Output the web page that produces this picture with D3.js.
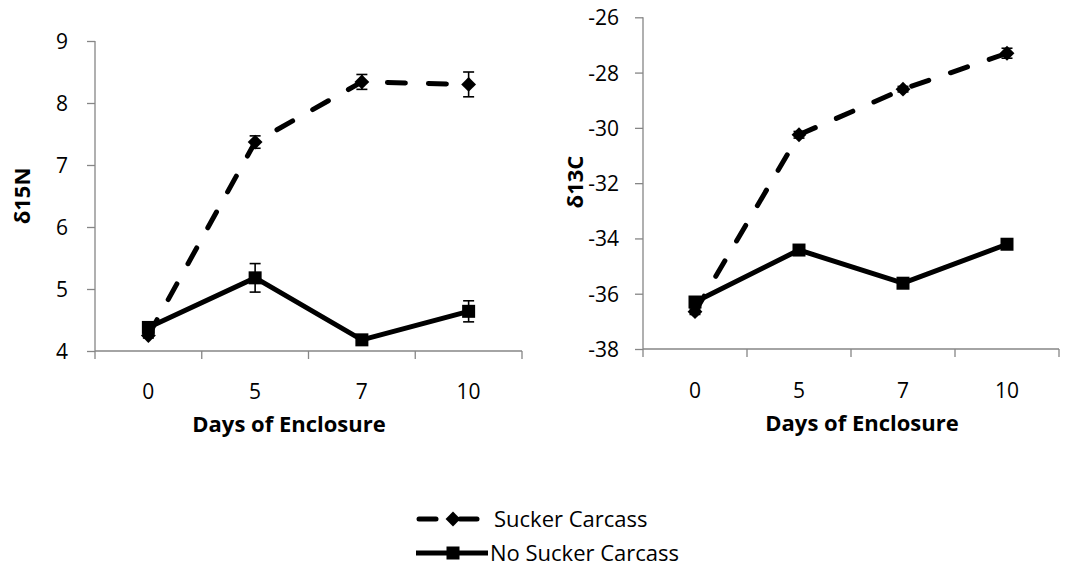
<!DOCTYPE html>
<html><head><meta charset="utf-8">
<script src="https://cdn.jsdelivr.net/npm/d3@7"></script>
<style>
html,body{margin:0;padding:0;background:#fff;}
svg{display:block;}
text{font-family:"Open Sans","Noto Sans",sans-serif;fill:#000;}
</style></head>
<body>
<svg id="chart" width="1068" height="571"></svg>
<script>
const days = ["0", "5", "7", "10"];
const n15Sucker = [4.25, 7.37, 8.34, 8.30];
const n15SuckerErr = [0.04, 0.10, 0.12, 0.20];
const n15NoSucker = [4.38, 5.18, 4.18, 4.64];
const n15NoSuckerErr = [0.04, 0.23, 0.04, 0.17];
const c13Sucker = [-36.65, -30.25, -28.6, -27.3];
const c13SuckerErr = [0.10, 0.12, 0.10, 0.18];
const c13NoSucker = [-36.3, -34.42, -35.62, -34.21];
const c13NoSuckerErr = [0.08, 0.10, 0.08, 0.08];
const n15Ticks = [4, 5, 6, 7, 8, 9];
const c13Ticks = [-38, -36, -34, -32, -30, -28, -26];
const seriesNames = ["Sucker Carcass", "No Sucker Carcass"];

const svg = d3.select("#chart");
const axisColor = "#868686";

function panel(opt) {
  const g = svg.append("g");
  const x = d3.scaleBand().domain(days).range([opt.x0, opt.x1]).padding(0);
  const y = d3.scaleLinear().domain(opt.domain).range([opt.yb, opt.yt]);

  // y axis
  const ya = g.append("g").attr("transform", `translate(${opt.x0},0)`)
    .call(d3.axisLeft(y).tickValues(opt.ticks).tickSize(8).tickPadding(opt.tp).tickFormat(d => String(d)));
  ya.select(".domain").remove();
  ya.selectAll(".tick line").attr("stroke", axisColor).attr("stroke-width", 1.3);
  ya.selectAll(".tick text").attr("font-size", 21).attr("font-family", null).attr("dy", "0.36em");
  g.append("line").attr("x1", opt.x0).attr("x2", opt.x0).attr("y1", opt.yt).attr("y2", opt.yb)
    .attr("stroke", axisColor).attr("stroke-width", 1.3);

  // x axis
  g.append("line").attr("x1", opt.x0).attr("x2", opt.x1).attr("y1", opt.yb).attr("y2", opt.yb)
    .attr("stroke", axisColor).attr("stroke-width", 1.3);
  const edges = days.map(d => x(d)).concat([x(days[days.length - 1]) + x.bandwidth()]);
  g.selectAll(".xt").data(edges).join("line")
    .attr("x1", d => d).attr("x2", d => d).attr("y1", opt.yb).attr("y2", opt.yb + 8)
    .attr("stroke", axisColor).attr("stroke-width", 1.3);
  g.selectAll(".xl").data(days).join("text")
    .attr("x", d => x(d) + x.bandwidth() / 2).attr("y", opt.xly)
    .attr("text-anchor", "middle").attr("font-size", 21).text(d => d);

  // titles
  g.append("text").attr("x", opt.xtx).attr("y", opt.xty).attr("text-anchor", "middle")
    .attr("font-size", 22).attr("font-weight", "bold").text("Days of Enclosure");
  g.append("text").attr("transform", `translate(${opt.ytx},${opt.yty}) rotate(-90)`)
    .attr("text-anchor", "middle").attr("dy", "0.35em").attr("font-size", 22).attr("font-weight", "bold").text(opt.ytitle);

  const cx = d => x(d) + x.bandwidth() / 2;
  const line = d3.line().x(d => cx(d.k)).y(d => y(d.v));
  const s1 = days.map((k, i) => ({k, v: opt.s1[i], e: opt.e1[i]}));
  const s2 = days.map((k, i) => ({k, v: opt.s2[i], e: opt.e2[i]}));

  g.append("path").datum(s1).attr("d", line).attr("fill", "none").attr("stroke", "#000")
    .attr("stroke-width", 5).attr("stroke-dasharray", "18,23").attr("stroke-linecap", "round");
  g.append("path").datum(s2).attr("d", line).attr("fill", "none").attr("stroke", "#000")
    .attr("stroke-width", 5).attr("stroke-linejoin", "miter");

  const diamond = d3.symbol().type(d3.symbolDiamond2).size(140);
  g.selectAll(".m1").data(s1).join("path")
    .attr("transform", d => `translate(${cx(d.k)},${y(d.v)})`).attr("d", diamond).attr("fill", "#000");
  g.selectAll(".m2").data(s2).join("rect")
    .attr("x", d => cx(d.k) - 6.5).attr("y", d => y(d.v) - 6.5).attr("width", 13).attr("height", 13).attr("fill", "#000");

  // error bars
  [s1, s2].forEach(s => {
    const eb = g.selectAll(null).data(s).join("g");
    eb.append("line").attr("x1", d => cx(d.k)).attr("x2", d => cx(d.k))
      .attr("y1", d => y(d.v - d.e)).attr("y2", d => y(d.v + d.e)).attr("stroke", "#000").attr("stroke-width", 1.6);
    [1, -1].forEach(sg => eb.append("line").attr("x1", d => cx(d.k) - 5.5).attr("x2", d => cx(d.k) + 5.5)
      .attr("y1", d => y(d.v + sg * d.e)).attr("y2", d => y(d.v + sg * d.e)).attr("stroke", "#000").attr("stroke-width", 1.6));
  });
}

panel({x0: 95, x1: 522, yt: 41, yb: 351, domain: [4, 9], ticks: n15Ticks, tp: 19,
  s1: n15Sucker, e1: n15SuckerErr, s2: n15NoSucker, e2: n15NoSuckerErr,
  xly: 399, xtx: 289, xty: 432, ytx: 22, yty: 196, ytitle: "δ15N"});
panel({x0: 643, x1: 1059, yt: 17.3, yb: 349, domain: [-38, -26], ticks: c13Ticks, tp: 16,
  s1: c13Sucker, e1: c13SuckerErr, s2: c13NoSucker, e2: c13NoSuckerErr,
  xly: 398, xtx: 862, xty: 431, ytx: 575, yty: 182, ytitle: "δ13C"});

// legend
const leg = svg.append("g");
const legY = [519, 553];
leg.append("line").attr("x1", 419).attr("x2", 436).attr("y1", legY[0]).attr("y2", legY[0])
  .attr("stroke", "#000").attr("stroke-width", 5).attr("stroke-linecap", "round");
leg.append("line").attr("x1", 460).attr("x2", 477).attr("y1", legY[0]).attr("y2", legY[0])
  .attr("stroke", "#000").attr("stroke-width", 5).attr("stroke-linecap", "round");
leg.append("path").attr("transform", `translate(453,${legY[0]})`)
  .attr("d", d3.symbol().type(d3.symbolDiamond2).size(140)).attr("fill", "#000");
leg.append("line").attr("x1", 416).attr("x2", 488).attr("y1", legY[1]).attr("y2", legY[1])
  .attr("stroke", "#000").attr("stroke-width", 5);
leg.append("rect").attr("x", 453 - 6.5).attr("y", legY[1] - 6.5).attr("width", 13).attr("height", 13).attr("fill", "#000");
leg.selectAll(".lt").data(seriesNames).join("text")
  .attr("x", (d, i) => i === 0 ? 494 : 490).attr("y", (d, i) => legY[i]).attr("dy", "0.35em")
  .attr("font-size", 22).text(d => d);
</script>
</body></html>
